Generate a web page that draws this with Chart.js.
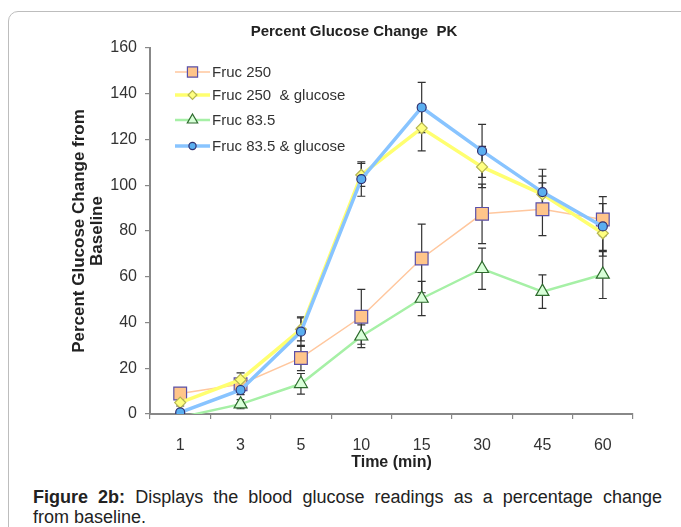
<!DOCTYPE html>
<html><head><meta charset="utf-8">
<script src="https://cdn.jsdelivr.net/npm/chart.js@4.4.0/dist/chart.umd.min.js"></script>
<style>
html,body{margin:0;padding:0;width:681px;height:527px;overflow:hidden;background:#fff;font-family:"Liberation Sans",Arial,sans-serif;}
#frame{position:absolute;left:8px;top:11px;width:720px;height:560px;border:1.5px solid #bdbdbd;border-radius:10px;box-sizing:border-box;}
#wrap{position:absolute;left:0;top:0;width:681px;height:480px;}
#title{position:absolute;top:22px;left:204px;width:300px;text-align:center;font:bold 15px "Liberation Sans",Arial,sans-serif;line-height:18px;color:#222;white-space:nowrap;}
.cap{position:absolute;left:33px;width:629px;font-size:18px;line-height:20px;color:#222;white-space:nowrap;}
#cap1{top:487px;text-align:justify;text-align-last:justify;white-space:normal;}
#cap2{top:507px;}
</style></head>
<body>
<div id="frame"></div>
<div id="wrap"><canvas id="c" width="681" height="480"></canvas></div>
<div id="title">Percent Glucose Change&nbsp; PK</div>
<div class="cap" id="cap1"><b>Figure 2b:</b> Displays the blood glucose readings as a percentage change</div>
<div class="cap" id="cap2">from baseline.</div>
<script>
const times = ['1','3','5','10','15','30','45','60'];
const fruc250 = [9, 13, 24.5, 42.5, 68, 87.5, 89.5, 85];
const fruc250Err = [1.5, 2, 5.5, 12, 15, 13, 11.5, 7];
const fruc250Glu = [5, 15, 37, 104.5, 125, 108, 96, 79];
const fruc250GluErr = [1.5, 3, 5, 5, 10, 9, 8, 8];
const fruc83 = [-1.5, 4.3, 13.2, 34, 50.5, 63.5, 53.5, 61];
const fruc83Err = [1, 2, 4.5, 5, 7.5, 9, 7.3, 10.5];
const fruc83Glu = [0.7, 10.5, 36, 102.7, 134, 115, 97, 82];
const fruc83GluErr = [1, 2, 6.5, 7.5, 11, 11.6, 10, 13];
const yTicks = {min: 0, max: 160, step: 20};
const seriesNames = ['Fruc 250', 'Fruc 250  & glucose', 'Fruc 83.5', 'Fruc 83.5 & glucose'];

function marker(ctx, style, x, y, r, fill, stroke, lw) {
  ctx.save();
  ctx.fillStyle = fill; ctx.strokeStyle = stroke; ctx.lineWidth = lw;
  ctx.beginPath();
  if (style === 'rect') {
    const s = Math.SQRT1_2 * r;
    ctx.rect(x - s, y - s, 2 * s, 2 * s);
  } else if (style === 'rectRot') {
    ctx.moveTo(x, y - r); ctx.lineTo(x + r, y); ctx.lineTo(x, y + r); ctx.lineTo(x - r, y); ctx.closePath();
  } else if (style === 'triangle') {
    for (let i = 0; i < 3; i++) {
      const a = i * 2 * Math.PI / 3;
      const px = x + Math.sin(a) * r, py = y - Math.cos(a) * r;
      if (i === 0) ctx.moveTo(px, py); else ctx.lineTo(px, py);
    }
    ctx.closePath();
  } else {
    ctx.arc(x, y, r, 0, Math.PI * 2);
  }
  ctx.fill(); ctx.stroke();
  ctx.restore();
}

const errPlugin = {
  id: 'errbars',
  beforeDatasetsDraw(chart) {
    const ctx = chart.ctx, xs = chart.scales.x, ys = chart.scales.y;
    const a = chart.chartArea;
    ctx.save();
    ctx.beginPath(); ctx.rect(a.left, a.top - 10, a.right - a.left, a.bottom - a.top + 10); ctx.clip();
    ctx.strokeStyle = '#333'; ctx.lineWidth = 1.2;
    chart.data.datasets.forEach(ds => {
      ds.data.forEach((v, i) => {
        const e = ds.err[i];
        const x = xs.getPixelForValue(i);
        const y1 = ys.getPixelForValue(v + e), y2 = ys.getPixelForValue(v - e);
        ctx.beginPath();
        ctx.moveTo(x, y1); ctx.lineTo(x, y2);
        ctx.moveTo(x - 4, y1); ctx.lineTo(x + 4, y1);
        ctx.moveTo(x - 4, y2); ctx.lineTo(x + 4, y2);
        ctx.stroke();
      });
    });
    ctx.restore();
  },
  afterDraw(chart) {
    const ctx = chart.ctx;
    const rows = [72, 95, 120, 146];
    chart.data.datasets.forEach((ds, i) => {
      const y = rows[i];
      ctx.save();
      ctx.strokeStyle = ds.borderColor; ctx.lineWidth = ds.borderWidth;
      ctx.beginPath(); ctx.moveTo(175, y); ctx.lineTo(210, y); ctx.stroke();
      ctx.restore();
      marker(ctx, ds.pointStyle, 192.5, y, ds.pointRadius * 0.8, ds.pointBackgroundColor, ds.pointBorderColor, ds.pointBorderWidth);
      ctx.save();
      ctx.fillStyle = '#333'; ctx.font = '15px "Liberation Sans", Arial, sans-serif';
      ctx.textBaseline = 'middle'; ctx.textAlign = 'left';
      ctx.fillText(ds.label, 212, y + 1);
      ctx.restore();
    });
  }
};

new Chart(document.getElementById('c'), {
  type: 'line',
  data: {
    labels: times,
    datasets: [
      {label: seriesNames[0], data: fruc250, err: fruc250Err, order: 3,
       borderColor: '#FFC79E', borderWidth: 1.5, pointStyle: 'rect', pointRadius: 9,
       pointBackgroundColor: '#FFC58A', pointBorderColor: '#5A50A8', pointBorderWidth: 1.2},
      {label: seriesNames[1], data: fruc250Glu, err: fruc250GluErr, order: 2,
       borderColor: '#FFFF70', borderWidth: 3.5, pointStyle: 'rectRot', pointRadius: 5.5,
       pointBackgroundColor: '#FFFF80', pointBorderColor: '#B5B552', pointBorderWidth: 1.2},
      {label: seriesNames[2], data: fruc83, err: fruc83Err, order: 1,
       borderColor: '#A6F0A6', borderWidth: 2.5, pointStyle: 'triangle', pointRadius: 7.5,
       pointBackgroundColor: '#D8FFD8', pointBorderColor: '#2E6B2E', pointBorderWidth: 1.2},
      {label: seriesNames[3], data: fruc83Glu, err: fruc83GluErr, order: 0,
       borderColor: '#88C4FF', borderWidth: 3.5, pointStyle: 'circle', pointRadius: 4.5,
       pointBackgroundColor: '#5AAEF0', pointBorderColor: '#303070', pointBorderWidth: 1.2}
    ]
  },
  options: {
    responsive: false, animation: false, devicePixelRatio: 1,
    layout: {padding: {left: 0, right: 48, top: 48, bottom: 0}},
    plugins: {legend: {display: false}, title: {display: false}, tooltip: {enabled: false}},
    elements: {line: {tension: 0, fill: false}},
    scales: {
      x: {
        type: 'category', offset: true,
        afterFit(s) { s.height = 66; },
        grid: {display: true, drawOnChartArea: false, drawTicks: true, tickLength: 5, color: '#888', lineWidth: 1.2, offset: true},
        border: {display: true, color: '#888', width: 2},
        ticks: {color: '#333', font: {size: 16, family: '"Liberation Sans", Arial, sans-serif'}, padding: 17, maxRotation: 0},
        title: {display: true, text: 'Time (min)', color: '#222', font: {size: 16, weight: 'bold', family: '"Liberation Sans", Arial, sans-serif', lineHeight: 1.2}, padding: {top: 0, bottom: 7.4}}
      },
      y: {
        min: yTicks.min, max: yTicks.max,
        afterFit(s) { s.width = 150; },
        grid: {display: true, drawOnChartArea: false, drawTicks: true, tickLength: 5, color: '#888', lineWidth: 1.2},
        border: {display: true, color: '#888', width: 2},
        ticks: {stepSize: yTicks.step, color: '#333', font: {size: 16, family: '"Liberation Sans", Arial, sans-serif'}, padding: 8},
        title: {display: true, text: ['Percent Glucose Change from', 'Baseline'], color: '#222', font: {size: 17, weight: 'bold', family: '"Liberation Sans", Arial, sans-serif', lineHeight: '18px'}, padding: {top: 70, bottom: 0}}
      }
    }
  },
  plugins: [errPlugin]
});
</script>
</body></html>
